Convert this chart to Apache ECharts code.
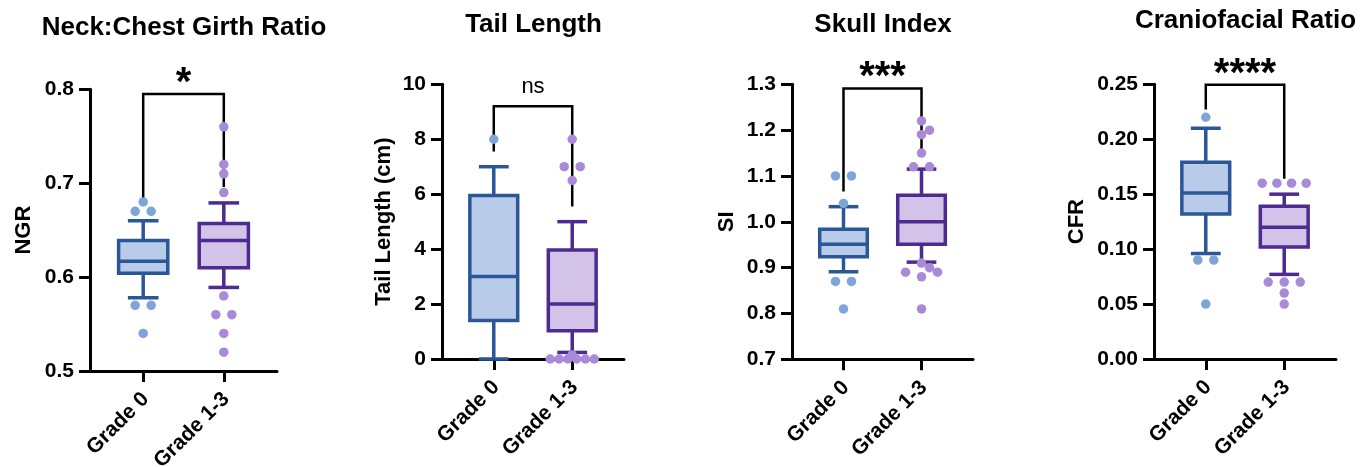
<!DOCTYPE html>
<html><head><meta charset="utf-8">
<script src="https://cdn.jsdelivr.net/npm/echarts@6/dist/echarts.min.js"></script>
<style>html,body{margin:0;padding:0;background:#fff}#c{width:1372px;height:467px}</style>
</head><body><div id="c"></div>
<script>
// ---------------- data ----------------
const categories = ['Grade 0', 'Grade 1-3'];
const titles = ['Neck:Chest Girth Ratio', 'Tail Length', 'Skull Index', 'Craniofacial Ratio'];
const yNames = ['NGR', 'Tail Length (cm)', 'SI', 'CFR'];
const significance = ['*', 'ns', '***', '****'];

const ngrTicks = [0.5, 0.6, 0.7, 0.8];
const tailTicks = [0, 2, 4, 6, 8, 10];
const siTicks = [0.7, 0.8, 0.9, 1.0, 1.1, 1.2, 1.3];
const cfrTicks = [0, 0.05, 0.10, 0.15, 0.20, 0.25];

// box stats: [whisker low, Q1, median, Q3, whisker high]
const ngrGrade0 = [0.578, 0.604, 0.617, 0.639, 0.660];
const ngrGrade13 = [0.589, 0.610, 0.639, 0.657, 0.679];
const ngrOut0 = [0.68, 0.67, 0.67, 0.57, 0.57, 0.54];
const ngrOut13 = [0.76, 0.72, 0.71, 0.69, 0.58, 0.56, 0.56, 0.54, 0.52];
const ngrBracket = [0.680, 0.795, 0.696]; // [left end, top, right end]

const tailGrade0 = [0, 1.4, 3.0, 5.95, 7.0];
const tailGrade13 = [0.24, 1.03, 2.0, 3.97, 5.0];
const tailOut0 = [8];
const tailOut13 = [8, 7, 7, 6.5, 0.15, 0, 0, 0, 0, 0, 0];
const tailBracket = [7.55, 9.2, 5.55];

const siGrade0 = [0.891, 0.924, 0.951, 0.984, 1.033];
const siGrade13 = [0.912, 0.951, 1.0, 1.058, 1.115];
const siOut0 = [1.10, 1.10, 1.04, 0.87, 0.87, 0.81];
const siOut13 = [1.22, 1.20, 1.19, 1.15, 1.12, 1.12, 0.91, 0.90, 0.89, 0.89, 0.88, 0.81];
const siBracket = [1.066, 1.291, 1.146];

const cfrGrade0 = [0.096, 0.132, 0.151, 0.179, 0.210];
const cfrGrade13 = [0.077, 0.102, 0.120, 0.139, 0.150];
const cfrOut0 = [0.22, 0.09, 0.09, 0.05];
const cfrOut13 = [0.16, 0.16, 0.16, 0.16, 0.07, 0.07, 0.07, 0.06, 0.05];
const cfrBracket = [0.227, 0.2496, 0.164];

// ---------------- layout / style ----------------
const FONT = '"Liberation Sans", Arial, Helvetica, sans-serif';
const STROKE = ['#2B5698', '#4D2B90'];
const FILL = ['#B8CCEA', '#D3C3E9'];
const DOT = ['#7EA5DB', '#A88AD8'];
const XMIN = -0.66, XMAX = 1.66;

const panels = [
  {ticks: ngrTicks, dec: 1, boxes: [ngrGrade0, ngrGrade13], outs: [ngrOut0, ngrOut13], bracket: ngrBracket,
   grid: {left: 90, top: 89.3, width: 187, height: 281.7}, nameGap: 55.5, title: {x: 184, y: 15}},
  {ticks: tailTicks, dec: 0, boxes: [tailGrade0, tailGrade13], outs: [tailOut0, tailOut13], bracket: tailBracket,
   grid: {left: 442, top: 84.3, width: 182, height: 274.7}, nameGap: 47.5, title: {x: 533.5, y: 12}},
  {ticks: siTicks, dec: 1, boxes: [siGrade0, siGrade13], outs: [siOut0, siOut13], bracket: siBracket,
   grid: {left: 792, top: 84.3, width: 181, height: 275}, nameGap: 54.5, title: {x: 883, y: 12}},
  {ticks: cfrTicks, dec: 2, boxes: [cfrGrade0, cfrGrade13], outs: [cfrOut0, cfrOut13], bracket: cfrBracket,
   grid: {left: 1154, top: 84.3, width: 182, height: 274.7}, nameGap: 66.5, title: {x: 1245.5, y: 7.5}}
];

// simple beeswarm: spreads equal / near values sideways (in pixels) around the category centre
function beeswarm(values, center, median, pxX, pxY) {
  const groups = new Map();
  values.forEach(v => { const k = v.toFixed(5); if (!groups.has(k)) groups.set(k, []); groups.get(k).push(v); });
  const keys = [...groups.keys()].map(Number).sort((p, q) => Math.abs(p - median) - Math.abs(q - median));
  const placed = [];
  const S = 16, D = 9, MAXSPAN = 44;
  const minDist = offs => {
    let m = Infinity;
    offs.forEach(o => placed.forEach(p => { m = Math.min(m, Math.hypot(o[0] - p[0], o[1] - p[1])); }));
    return m;
  };
  keys.forEach(v => {
    const n = groups.get(v.toFixed(5)).length;
    const yy = v * pxY;
    let cands = [];
    if (n === 1) {
      cands = [0, 8, -8, 16, -16].map(o => [[o, yy]]);
    } else {
      const s = Math.min(S, MAXSPAN / (n - 1));
      const mk = sp => Array.from({length: n}, (_, i) => [(i - (n - 1) / 2) * sp, yy]);
      cands = [mk(s)];
      if (n === 2) cands.push(mk(2 * s));
    }
    let chosen = null, best = -1, bestC = null;
    for (const c of cands) {
      const d = minDist(c);
      if (d >= D) { chosen = c; break; }
      if (d > best) { best = d; bestC = c; }
    }
    if (!chosen) chosen = n > 2 ? cands[0] : bestC;
    chosen.forEach(p => placed.push(p));
  });
  return placed.map(p => [center + p[0] / pxX, p[1] / pxY]);
}

function boxRender(params, api) {
  const i = api.value(0);
  const lo = api.value(1), q1 = api.value(2), md = api.value(3), q3 = api.value(4), hi = api.value(5);
  const hw = 0.305, cw = 0.19;
  const a = api.coord([i - hw, q3]), b = api.coord([i + hw, q1]);
  const c = api.coord([i, hi]), d = api.coord([i, lo]);
  const m1 = api.coord([i - hw, md]), m2 = api.coord([i + hw, md]);
  const cl = api.coord([i - cw, hi]), cr = api.coord([i + cw, hi]);
  const dl = api.coord([i - cw, lo]), dr = api.coord([i + cw, lo]);
  const ls = {stroke: STROKE[i], lineWidth: 3.5, fill: null};
  return {type: 'group', children: [
    {type: 'line', shape: {x1: c[0], y1: c[1], x2: c[0], y2: a[1]}, style: ls},
    {type: 'line', shape: {x1: d[0], y1: b[1], x2: d[0], y2: d[1]}, style: ls},
    {type: 'line', shape: {x1: cl[0], y1: cl[1], x2: cr[0], y2: cr[1]}, style: ls},
    {type: 'line', shape: {x1: dl[0], y1: dl[1], x2: dr[0], y2: dr[1]}, style: ls},
    {type: 'rect', shape: {x: a[0], y: a[1], width: b[0] - a[0], height: b[1] - a[1]},
     style: {fill: FILL[i], stroke: STROKE[i], lineWidth: 3.5}},
    {type: 'line', shape: {x1: m1[0], y1: m1[1], x2: m2[0], y2: m2[1]}, style: ls}
  ]};
}

function bracketRender(label) {
  return function (params, api) {
    const l = api.value(0), t = api.value(1), r = api.value(2);
    const p1 = api.coord([0, l]), p2 = api.coord([0, t]), p3 = api.coord([1, t]), p4 = api.coord([1, r]);
    const isNs = label === 'ns';
    return {type: 'group', children: [
      {type: 'polyline', shape: {points: [p1, p2, p3, p4]}, style: {stroke: '#000', lineWidth: 2.5, fill: null}},
      {type: 'text', style: {text: label, x: (p2[0] + p3[0]) / 2, y: p2[1] - (isNs ? 19 : 10),
        align: 'center', verticalAlign: 'middle', fill: '#000',
        font: (isNs ? 'normal 22px ' : 'bold 40px ') + FONT}}
    ]};
  };
}

const grid = [], xAxis = [], yAxis = [], series = [], title = [];
panels.forEach((p, k) => {
  grid.push(Object.assign({containLabel: false, outerBoundsMode: 'none'}, p.grid));
  title.push({text: titles[k], left: p.title.x, top: p.title.y, textAlign: 'center', padding: 0,
    textStyle: {fontSize: 26, fontWeight: 'bold', color: '#000', fontFamily: FONT}});
  const ymin = p.ticks[0], ymax = p.ticks[p.ticks.length - 1];
  xAxis.push({gridIndex: k, type: 'value', min: XMIN, max: XMAX,
    axisLine: {show: true, onZero: false, lineStyle: {color: '#000', width: 3}},
    axisTick: {show: true, customValues: [0, 1], length: 11, lineStyle: {color: '#000', width: 3}},
    axisLabel: {show: true, customValues: [0.03, 1.03], formatter: v => categories[Math.round(v)], rotate: 45,
      fontSize: 21, fontWeight: 'bold', color: '#000', fontFamily: FONT, margin: 25},
    splitLine: {show: false}});
  yAxis.push({gridIndex: k, type: 'value', min: ymin, max: ymax,
    name: yNames[k], nameLocation: 'middle', nameGap: p.nameGap,
    nameTextStyle: {fontSize: 22, fontWeight: 'bold', color: '#000', fontFamily: FONT},
    axisLine: {show: true, onZero: false, lineStyle: {color: '#000', width: 3}},
    axisTick: {show: true, customValues: p.ticks, length: 11, lineStyle: {color: '#000', width: 3}},
    axisLabel: {show: true, customValues: p.ticks, formatter: v => Number(v).toFixed(p.dec),
      fontSize: 21, fontWeight: 'bold', color: '#000', fontFamily: FONT, margin: 16},
    splitLine: {show: false}});
  series.push({type: 'custom', xAxisIndex: k, yAxisIndex: k, renderItem: boxRender, silent: true, z: 2,
    data: p.boxes.map((b, i) => [i].concat(b))});
  const pxX = p.grid.width / (XMAX - XMIN), pxY = p.grid.height / (ymax - ymin);
  p.outs.forEach((o, i) => {
    series.push({type: 'scatter', xAxisIndex: k, yAxisIndex: k, symbol: 'circle', symbolSize: 9.5, silent: true, z: 4,
      itemStyle: {color: DOT[i], opacity: 1}, data: beeswarm(o, i, p.boxes[i][2], pxX, pxY)});
  });
  series.push({type: 'custom', xAxisIndex: k, yAxisIndex: k, renderItem: bracketRender(significance[k]), silent: true, z: 3,
    data: [p.bracket]});
});

const chart = echarts.init(document.getElementById('c'), null, {renderer: 'canvas'});
chart.setOption({animation: false, backgroundColor: '#fff', title, grid, xAxis, yAxis, series});
</script></body></html>
